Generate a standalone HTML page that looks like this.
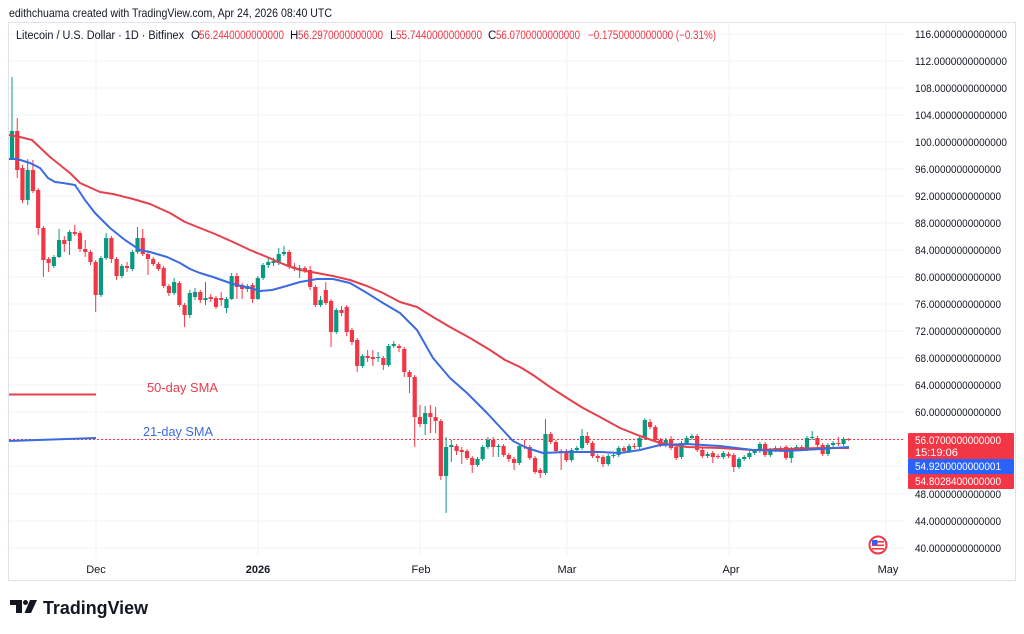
<!DOCTYPE html>
<html><head><meta charset="utf-8">
<style>
html,body{margin:0;padding:0;background:#fff;width:1024px;height:634px;overflow:hidden}
svg{display:block}
text{font-family:"Liberation Sans",sans-serif}
</style></head><body>
<svg id="s" width="1024" height="634" viewBox="0 0 1024 634" xmlns="http://www.w3.org/2000/svg">
<rect width="1024" height="634" fill="#fff"/>
<text x="9" y="17" font-size="12" fill="#131722" textLength="323" lengthAdjust="spacingAndGlyphs">edithchuama created with TradingView.com, Apr 24, 2026 08:40 UTC</text>
<rect x="8.5" y="22.5" width="1007" height="558" fill="none" stroke="#e0e3eb"/>
<g stroke="#f0f3fa" stroke-width="1">
<line x1="9" x2="905" y1="34" y2="34"/><line x1="9" x2="905" y1="61" y2="61"/><line x1="9" x2="905" y1="88" y2="88"/><line x1="9" x2="905" y1="115" y2="115"/><line x1="9" x2="905" y1="142" y2="142"/><line x1="9" x2="905" y1="169" y2="169"/><line x1="9" x2="905" y1="196" y2="196"/><line x1="9" x2="905" y1="223" y2="223"/><line x1="9" x2="905" y1="250" y2="250"/><line x1="9" x2="905" y1="277" y2="277"/><line x1="9" x2="905" y1="304" y2="304"/><line x1="9" x2="905" y1="331" y2="331"/><line x1="9" x2="905" y1="358" y2="358"/><line x1="9" x2="905" y1="385" y2="385"/><line x1="9" x2="905" y1="412" y2="412"/><line x1="9" x2="905" y1="439" y2="439"/><line x1="9" x2="905" y1="466" y2="466"/><line x1="9" x2="905" y1="494" y2="494"/><line x1="9" x2="905" y1="521" y2="521"/><line x1="9" x2="905" y1="548" y2="548"/>
<line x1="96" x2="96" y1="23" y2="556"/><line x1="258" x2="258" y1="23" y2="556"/><line x1="420" x2="420" y1="23" y2="556"/><line x1="567" x2="567" y1="23" y2="556"/><line x1="729" x2="729" y1="23" y2="556"/><line x1="886" x2="886" y1="23" y2="556"/>
</g>
<g font-size="11.5" fill="#131722">
<text x="16" y="39" textLength="168" lengthAdjust="spacingAndGlyphs">Litecoin / U.S. Dollar · 1D · Bitfinex</text>
<text x="191" y="39">O</text><text x="199" y="39" fill="#f23645" textLength="85" lengthAdjust="spacingAndGlyphs">56.2440000000000</text>
<text x="290" y="39">H</text><text x="298" y="39" fill="#f23645" textLength="85" lengthAdjust="spacingAndGlyphs">56.2970000000000</text>
<text x="390" y="39">L</text><text x="396" y="39" fill="#f23645" textLength="86" lengthAdjust="spacingAndGlyphs">55.7440000000000</text>
<text x="488" y="39">C</text><text x="496" y="39" fill="#f23645" textLength="84" lengthAdjust="spacingAndGlyphs">56.0700000000000</text>
<text x="588" y="39" fill="#f23645" textLength="128" lengthAdjust="spacingAndGlyphs">−0.1750000000000 (−0.31%)</text>
</g>
<line x1="9" x2="905" y1="439.5" y2="439.5" stroke="#f23645" stroke-width="1" stroke-dasharray="2,2"/>
<g id="cd"></g>
<polyline fill="none" stroke="#e5404c" stroke-width="2" stroke-linejoin="round" points="9,135 20,137 32,140 50,157 70,173 80,183 100,192 113,194 133,199 150,204 170,213 185,222 200,228 215,234 233,242 250,250 267,257 283,264 300,270 317,273 333,276 350,280 367,286 383,293 400,302 417,307 433,317 450,327 470,338 490,350 505,360 520,367 533,375 550,387 567,398 583,408 600,417 620,428 640,436 660,443 687,447 720,448 753,450 787,449 820,448 849,448"/>
<polyline fill="none" stroke="#3b6be0" stroke-width="2" stroke-linejoin="round" points="9,159 17,159 30,163 40,168 48,178 55,182 63,183 75,185 85,200 95,213 110,228 125,240 140,250 150,252 167,257 180,263 190,269 200,273 213,277 233,284 250,288 260,291 272,290 283,287 300,282 317,279 333,279 350,283 367,293 383,303 400,313 417,330 433,358 450,378 467,393 487,413 500,427 513,441 527,448 543,453 567,452 600,452 620,453 640,450 660,445 687,444 720,446 753,450 787,451 820,449 849,447"/>
<line x1="9" x2="96" y1="394.5" y2="394.5" stroke="#e5404c" stroke-width="2"/>
<line x1="9" x2="96" y1="441" y2="438" stroke="#3b6be0" stroke-width="2"/>
<text x="147" y="392" font-size="13" fill="#e5404c" textLength="71" lengthAdjust="spacingAndGlyphs">50-day SMA</text>
<text x="143" y="436" font-size="13" fill="#3b6be0" textLength="70" lengthAdjust="spacingAndGlyphs">21-day SMA</text>
<g font-size="11" fill="#131722">
<text x="915" y="38" textLength="92" lengthAdjust="spacingAndGlyphs">116.0000000000000</text>
<text x="915" y="65" textLength="92" lengthAdjust="spacingAndGlyphs">112.0000000000000</text>
<text x="915" y="92" textLength="92" lengthAdjust="spacingAndGlyphs">108.0000000000000</text>
<text x="915" y="119" textLength="92" lengthAdjust="spacingAndGlyphs">104.0000000000000</text>
<text x="915" y="146" textLength="92" lengthAdjust="spacingAndGlyphs">100.0000000000000</text>
<text x="915" y="173" textLength="86" lengthAdjust="spacingAndGlyphs">96.0000000000000</text>
<text x="915" y="200" textLength="86" lengthAdjust="spacingAndGlyphs">92.0000000000000</text>
<text x="915" y="227" textLength="86" lengthAdjust="spacingAndGlyphs">88.0000000000000</text>
<text x="915" y="254" textLength="86" lengthAdjust="spacingAndGlyphs">84.0000000000000</text>
<text x="915" y="281" textLength="86" lengthAdjust="spacingAndGlyphs">80.0000000000000</text>
<text x="915" y="308" textLength="86" lengthAdjust="spacingAndGlyphs">76.0000000000000</text>
<text x="915" y="335" textLength="86" lengthAdjust="spacingAndGlyphs">72.0000000000000</text>
<text x="915" y="362" textLength="86" lengthAdjust="spacingAndGlyphs">68.0000000000000</text>
<text x="915" y="389" textLength="86" lengthAdjust="spacingAndGlyphs">64.0000000000000</text>
<text x="915" y="416" textLength="86" lengthAdjust="spacingAndGlyphs">60.0000000000000</text>
<text x="915" y="498" textLength="86" lengthAdjust="spacingAndGlyphs">48.0000000000000</text>
<text x="915" y="525" textLength="86" lengthAdjust="spacingAndGlyphs">44.0000000000000</text>
<text x="915" y="552" textLength="86" lengthAdjust="spacingAndGlyphs">40.0000000000000</text>
</g>
<rect x="908" y="433" width="106" height="26" rx="1" fill="#f23645"/>
<rect x="908" y="459" width="106" height="15" fill="#2962ff"/>
<rect x="908" y="474" width="106" height="15" rx="1" fill="#f23645"/>
<g font-size="11" fill="#fff">
<text x="915" y="444" textLength="86" lengthAdjust="spacingAndGlyphs">56.0700000000000</text>
<text x="915" y="456">15:19:06</text>
<text x="915" y="470" textLength="86" lengthAdjust="spacingAndGlyphs">54.9200000000001</text>
<text x="915" y="485" textLength="86" lengthAdjust="spacingAndGlyphs">54.8028400000000</text>
</g>
<g font-size="11" fill="#131722" text-anchor="middle">
<text x="96" y="573">Dec</text>
<text x="258" y="573" font-weight="bold">2026</text>
<text x="421" y="573">Feb</text>
<text x="567" y="573">Mar</text>
<text x="731" y="573">Apr</text>
<text x="888" y="573">May</text>
</g>
<g>
<circle cx="878" cy="545" r="8.5" fill="#fff" stroke="#f23645" stroke-width="2"/>
<rect x="872" y="541" width="12" height="1.6" fill="#f23645"/>
<rect x="872" y="544.5" width="12" height="1.6" fill="#f23645"/>
<rect x="872" y="548" width="12" height="1.6" fill="#f23645"/>
<rect x="872" y="540" width="5.5" height="5" fill="#2962ff"/>
</g>
<g fill="#131722">
<path d="M10 600 H22 V613 H16 V605 H10 Z"/>
<circle cx="25.5" cy="602.5" r="2.5"/>
<path d="M30 600 H37 L31 613 H24.5 Z"/>
<text x="43" y="614" font-size="18" font-weight="bold" textLength="105" lengthAdjust="spacingAndGlyphs">TradingView</text>
</g>
</svg>
<script>
var D=[[159,131,77,160],[131,170,118,178],[168,200,165,203],[200,170,159,205],[170,191,160,193],[190,228,188,235],[228,260,226,277],[259,263,257,272],[266,257,255,268],[257,240,229,258],
[240,244,236,252],[241,232,230,255],[232,234,225,236],[233,249,231,252],[249,252,240,257],[252,262,250,265],[262,295,260,312],[295,258,256,297],[258,238,233,260],[238,259,236,263],
[259,276,257,280],[276,266,264,278],[266,268,262,272],[269,252,250,271],[252,238,227,254],[238,254,229,256],[254,259,252,275],[259,264,257,266],[264,269,262,271],[268,286,266,288],
[286,293,284,296],[293,282,278,295],[283,305,281,307],[305,315,303,327],[315,293,290,318],[297,292,288,300],[292,300,290,303],[300,298,282,305],[297,299,294,302],[298,307,296,309],
[298,300,292,306],[308,299,297,313],[299,276,273,300],[276,287,273,299],[285,289,283,299],[289,286,284,292],[285,299,283,303],[299,278,276,300],[278,265,263,280],[265,262,258,268],
[263,261,258,266],[263,254,248,265],[254,252,246,256],[252,267,250,269],[267,269,263,271],[269,268,265,278],[268,271,266,273],[270,287,266,290],[287,305,285,307],[305,300,296,307],
[290,303,282,305],[301,332,299,347],[332,310,308,334],[310,313,306,316],[307,332,305,336],[330,342,328,345],[340,366,338,372],[366,356,354,368],[356,358,350,362],[357,359,350,366],
[358,357,352,362],[358,365,356,370],[365,346,344,367],[346,344,341,348],[346,348,344,352],[349,372,347,377],[372,377,370,393],[377,417,375,447],[417,424,405,427],[424,413,406,435],
[413,417,405,433],[417,421,407,433],[421,476,419,480],[476,447,437,513],[447,445,440,462],[446,451,444,455],[450,452,447,464],[451,458,449,460],[458,465,456,473],[465,459,457,467],
[459,447,445,461],[447,440,437,449],[440,447,437,457],[447,446,444,457],[446,455,444,457],[455,459,453,462],[459,463,457,470],[463,446,444,465],[446,447,440,449],[447,458,445,460],
[458,472,456,474],[470,473,468,478],[473,434,419,475],[434,442,432,444],[442,451,440,453],[451,452,449,470],[451,460,449,462],[460,450,448,462],[450,448,446,452],[448,436,429,450],
[436,443,432,445],[443,456,441,458],[456,458,454,462],[457,464,455,467],[464,456,454,466],[456,455,452,458],[455,448,446,457],[448,451,446,453],[451,446,444,453],[446,447,443,449],
[447,438,436,449],[438,420,418,440],[422,427,419,429],[427,440,425,442],[440,445,438,447],[445,440,438,447],[439,448,436,450],[447,458,445,460],[457,443,441,459],[443,438,436,445],
[438,436,434,440],[436,450,434,452],[450,456,448,458],[456,454,452,458],[453,457,451,463],[456,457,454,459],[457,453,451,459],[454,456,452,458],[455,467,453,472],[467,459,457,469],
[459,457,455,461],[457,453,451,459],[453,451,449,455],[451,444,442,453],[444,455,442,457],[455,450,448,457],[450,448,446,452],[448,450,446,452],[447,458,445,460],[458,449,447,463],
[449,447,445,451],[447,449,445,451],[449,438,436,451],[438,437,431,440],[438,445,436,447],[445,454,443,456],[454,445,443,456],[445,443,441,447],[443,444,437,446],[444,439,437,446],
[439,440,438,441]];
var NS="http://www.w3.org/2000/svg",G=document.getElementById('cd');
for(var i=0;i<D.length;i++){
 var d=D[i],x=12+i*5.23,o=d[0],c=d[1],up=c<o,col=up?'#089981':'#f23645';
 var l=document.createElementNS(NS,'line');
 l.setAttribute('x1',x);l.setAttribute('x2',x);l.setAttribute('y1',d[2]);l.setAttribute('y2',d[3]);
 l.setAttribute('stroke',col);l.setAttribute('stroke-width','1');G.appendChild(l);
 var r=document.createElementNS(NS,'rect');
 var t=Math.min(o,c),h=Math.max(Math.abs(o-c),1);
 r.setAttribute('x',x-2.1);r.setAttribute('y',t);r.setAttribute('width','4.2');r.setAttribute('height',h);
 r.setAttribute('fill',col);G.appendChild(r);
}
</script>
</body></html>
